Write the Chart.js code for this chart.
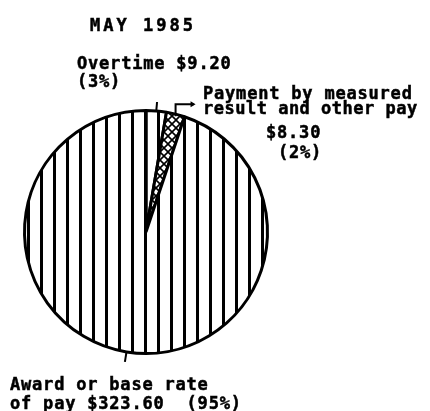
<!DOCTYPE html>
<html>
<head>
<meta charset="utf-8">
<script src="https://cdn.jsdelivr.net/npm/chart.js@4.4.1/dist/chart.umd.min.js"></script>
<style>
  html, body { margin: 0; padding: 0; background: #fff; }
  canvas { display: block; }
</style>
</head>
<body>
<canvas id="myChart" width="430" height="411"></canvas>
<script>
// data
const titleText = 'MAY 1985';
const categories = ['Overtime', 'Payment by measured result and other pay', 'Award or base rate of pay'];
const amounts = [9.20, 8.30, 323.60];
const percents = [3, 2, 95];

const ctx = document.getElementById('myChart');
const c2d = ctx.getContext('2d');

// vertical hatching, like the printed chart
function vHatch() {
  const t = document.createElement('canvas');
  t.width = 13; t.height = 13;
  const g = t.getContext('2d');
  g.fillStyle = '#fff'; g.fillRect(0, 0, 13, 13);
  g.fillStyle = '#000'; g.fillRect(1, 0, 3, 13);
  return c2d.createPattern(t, 'repeat');
}
// cross hatching for the thin wedge
function xHatch() {
  const t = document.createElement('canvas');
  t.width = 8; t.height = 8;
  const g = t.getContext('2d');
  g.fillStyle = '#fff'; g.fillRect(0, 0, 8, 8);
  g.strokeStyle = '#000'; g.lineWidth = 1.6;
  g.beginPath();
  g.moveTo(0, 0); g.lineTo(8, 8);
  g.moveTo(8, 0); g.lineTo(0, 8);
  g.stroke();
  return c2d.createPattern(t, 'repeat');
}

const FONT = 'bold 17px "DejaVu Sans Mono", "Liberation Mono", monospace';

function txt(g, s, x, y, spacing) {
  g.letterSpacing = (spacing === undefined ? 0.8 : spacing) + 'px';
  g.fillText(s, x, y);
  g.strokeText(s, x, y);
}

const labelPlugin = {
  id: 'labels',
  afterDraw(chart) {
    const g = chart.ctx;
    const arcs = chart.getDatasetMeta(0).data;
    g.save();
    g.fillStyle = '#000';
    g.strokeStyle = '#000';
    g.lineWidth = 2;
    g.font = FONT;
    g.textBaseline = 'alphabetic';
    g.textAlign = 'left';

    // leader ticks from the rim
    const rimPt = (a, extra) => {
      const mid = (a.startAngle + a.endAngle) / 2;
      const r = a.outerRadius + extra;
      return [a.x + Math.cos(mid) * r, a.y + Math.sin(mid) * r];
    };
    [[0, 9], [2, 10]].forEach(([i, len]) => {
      const p0 = rimPt(arcs[i], 0), p1 = rimPt(arcs[i], len);
      g.beginPath(); g.moveTo(p0[0], p0[1]); g.lineTo(p1[0], p1[1]); g.stroke();
    });
    // bent arrow for the payment wedge
    const p = rimPt(arcs[1], 0);
    g.beginPath();
    g.moveTo(p[0], p[1] + 2);
    g.lineTo(p[0], p[1] - 10);
    g.lineTo(p[0] + 18, p[1] - 10);
    g.stroke();
    g.beginPath();
    g.moveTo(p[0] + 20, p[1] - 10);
    g.lineTo(p[0] + 15, p[1] - 13);
    g.lineTo(p[0] + 15, p[1] - 7);
    g.closePath(); g.fill();

    // texts
    g.lineWidth = 0.5;
    txt(g, titleText, 90, 31, 3);
    txt(g, categories[0] + ' $' + amounts[0].toFixed(2), 77, 69);
    txt(g, '(' + percents[0] + '%)', 77, 87);
    txt(g, 'Payment by measured', 203, 99);
    txt(g, 'result and other pay', 203, 114, 0.5);
    txt(g, '$' + amounts[1].toFixed(2), 266, 138);
    txt(g, '(' + percents[1] + '%)', 278, 158);
    txt(g, 'Award or base rate', 10, 390);
    txt(g, 'of pay $' + amounts[2].toFixed(2) + '  (' + percents[2] + '%)', 10, 409, 0.8);
    g.restore();
  }
};

new Chart(ctx, {
  type: 'pie',
  data: {
    labels: categories,
    datasets: [{
      data: amounts,
      backgroundColor: [vHatch(), xHatch(), vHatch()],
      borderColor: '#000',
      borderWidth: 3,
      hoverOffset: 0,
      offset: 0
    }]
  },
  options: {
    responsive: false,
    animation: false,
    events: [],
    layout: { padding: { left: 23, right: 161, top: 109, bottom: 56 } },
    plugins: {
      legend: { display: false },
      tooltip: { enabled: false },
      title: { display: false }
    }
  },
  plugins: [labelPlugin]
});
</script>
</body>
</html>
